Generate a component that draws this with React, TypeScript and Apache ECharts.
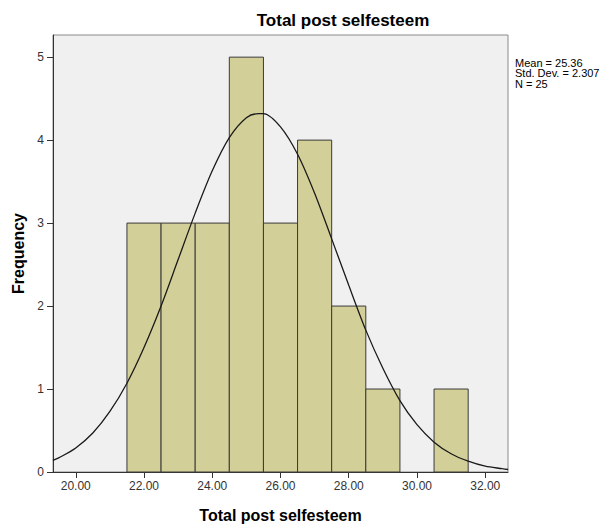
import React, { useEffect, useRef } from "react";
import * as echarts from "echarts";

const binStarts = [21.5, 22.5, 23.5, 24.5, 25.5, 26.5, 27.5, 28.5, 29.5, 30.5];
const binEnds = [22.5, 23.5, 24.5, 25.5, 26.5, 27.5, 28.5, 29.5, 30.5, 31.5];
const binCounts = [3, 3, 3, 5, 3, 4, 2, 1, 0, 1];

const curveX = [19.33, 19.5, 20, 20.5, 21, 21.5, 22, 22.5, 23, 23.5, 24, 24.5, 25, 25.36, 25.5, 26, 26.5, 27, 27.5, 28, 28.5, 29, 29.5, 30, 30.5, 31, 31.5, 32, 32.5, 32.67];
const curveY = [0.14, 0.17, 0.29, 0.47, 0.73, 1.07, 1.5, 2.0, 2.56, 3.12, 3.63, 4.03, 4.27, 4.32, 4.32, 4.16, 3.83, 3.36, 2.81, 2.25, 1.71, 1.25, 0.86, 0.57, 0.36, 0.22, 0.13, 0.07, 0.04, 0.03];

const xTicks = [20, 22, 24, 26, 28, 30, 32];
const yTicks = [0, 1, 2, 3, 4, 5];

const titleText = "Total post selfesteem";
const xName = "Total post selfesteem";
const yName = "Frequency";
const statsLines = ["Mean = 25.36", "Std. Dev. = 2.307", "N = 25"];

const FONT = "'Liberation Sans', Arial, sans-serif";

export default function App() {
  const ref = useRef<HTMLDivElement>(null);
  useEffect(() => {
    if (!ref.current) return;
    const chart = echarts.init(ref.current, null, { renderer: "svg" });
    const barData = binStarts.map((s, i) => [s, binEnds[i], binCounts[i]]);
    const lineData = curveX.map((x, i) => [x, curveY[i]]);
    chart.setOption({
      animation: false,
      textStyle: { fontFamily: FONT },
      title: {
        text: titleText,
        left: 338,
        top: 7,
        textAlign: "center",
        textStyle: { fontFamily: FONT, fontSize: 17, fontWeight: "bold", color: "#000" },
      },
      graphic: [
        {
          type: "text",
          left: 515,
          top: 57,
          style: {
            text: statsLines.join("\n"),
            fontFamily: FONT,
            fontSize: 11,
            lineHeight: 10.7,
            fill: "#000",
          },
        },
      ],
      grid: {
        left: 53,
        top: 35,
        width: 455,
        height: 444.3,
        show: true,
        backgroundColor: "#f0f0f0",
        borderColor: "#8a8a8a",
        borderWidth: 1,
      },
      xAxis: {
        type: "value",
        min: 19.333,
        max: 32.667,
        name: xName,
        nameLocation: "middle",
        nameGap: 35,
        nameTextStyle: { fontFamily: FONT, fontSize: 16, fontWeight: "bold", color: "#000" },
        axisLine: { show: true, lineStyle: { color: "#333", width: 1 } },
        axisTick: { show: true, length: 6, customValues: xTicks, lineStyle: { color: "#333" } },
        axisLabel: {
          customValues: xTicks,
          formatter: (v: number) => v.toFixed(2),
          fontFamily: FONT,
          fontSize: 12,
          color: "#333",
          margin: 8,
        },
        splitLine: { show: false },
      },
      yAxis: {
        type: "value",
        min: 0,
        max: 5.267,
        name: yName,
        nameLocation: "middle",
        nameRotate: 90,
        nameGap: 26,
        nameTextStyle: { fontFamily: FONT, fontSize: 16, fontWeight: "bold", color: "#000" },
        axisLine: { show: true, lineStyle: { color: "#333", width: 1 } },
        axisTick: { show: true, length: 6, customValues: yTicks, lineStyle: { color: "#333" } },
        axisLabel: {
          customValues: yTicks,
          fontFamily: FONT,
          fontSize: 12,
          color: "#333",
          margin: 9,
        },
        splitLine: { show: false },
      },
      series: [
        {
          type: "custom",
          data: barData,
          encode: { x: [0, 1], y: 2 },
          z: 2,
          renderItem: (params: any, api: any) => {
            const s = api.value(0);
            const e = api.value(1);
            const c = api.value(2);
            if (!c) return null;
            const p0 = api.coord([s, 0]);
            const p1 = api.coord([e, c]);
            return {
              type: "rect",
              shape: { x: p0[0], y: p1[1], width: p1[0] - p0[0], height: p0[1] - p1[1] },
              style: { fill: "#d3cf98", stroke: "#3a3a3a", lineWidth: 1 },
            };
          },
        },
        {
          type: "line",
          data: lineData,
          smooth: 0.3,
          showSymbol: false,
          symbol: "none",
          z: 3,
          lineStyle: { color: "#1a1a1a", width: 1.3 },
        },
      ],
    });
    return () => chart.dispose();
  }, []);
  return (
    <div
      ref={ref}
      style={{ position: "absolute", left: 0, top: 0, width: 609, height: 528, background: "#fff" }}
    />
  );
}
